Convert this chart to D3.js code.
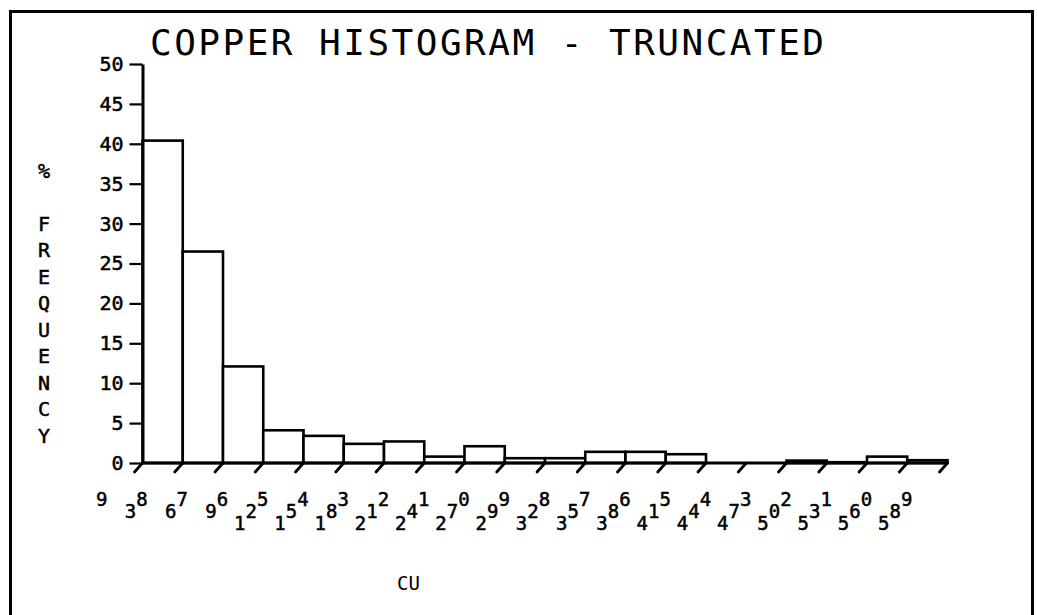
<!DOCTYPE html>
<html>
<head>
<meta charset="utf-8">
<script src="https://cdn.jsdelivr.net/npm/d3@7"></script>
<style>
  html, body { margin: 0; padding: 0; background: #fff; }
  svg { display: block; }
  text { font-family: "DejaVu Sans Mono", monospace; fill: #000; }
  .heavy { stroke: #000; stroke-width: 0.5px; }
</style>
</head>
<body>
<svg id="chart" width="1037" height="615"></svg>
<script>
// Chart text
const title = "COPPER HISTOGRAM - TRUNCATED";
const xTitle = "CU";
const yTitle = "% FREQUENCY";

// Bin boundary labels (copper value at each class edge)
const binLabels = ["9", "38", "67", "96", "125", "154", "183", "212", "241", "270",
                   "299", "328", "357", "386", "415", "444", "473", "502", "531", "560", "589"];

// Percent frequency in each class
const frequency = [40.4, 26.5, 12.1, 4.1, 3.4, 2.4, 2.7, 0.8, 2.1, 0.6,
                   0.6, 1.4, 1.4, 1.1, 0, 0, 0.3, 0.1, 0.8, 0.35];

// Y axis ticks
const yTicks = [0, 5, 10, 15, 20, 25, 30, 35, 40, 45, 50];

const svg = d3.select("#chart");

// Frame around the plot
svg.append("rect")
  .attr("x", 10.5).attr("y", 11.5)
  .attr("width", 1022).attr("height", 700)
  .attr("fill", "none").attr("stroke", "#000").attr("stroke-width", 3);

// Scales
const x = d3.scaleLinear().domain([0, frequency.length]).range([142.5, 947.5]);
const y = d3.scaleLinear().domain([0, 50]).range([463, 64]);

// Title
svg.append("text")
  .attr("x", 150).attr("y", 55)
  .attr("font-size", 36)
  .attr("textLength", 674)
  .attr("lengthAdjust", "spacing")
  .text(title);

// Histogram bars
svg.append("g").selectAll("rect")
  .data(frequency)
  .join("rect")
  .attr("x", (d, i) => x(i))
  .attr("y", d => y(d))
  .attr("width", (d, i) => x(i + 1) - x(i))
  .attr("height", d => y(0) - y(d))
  .attr("fill", "#fff")
  .attr("stroke", "#000")
  .attr("stroke-width", 2.6);

// Y axis
const yAxis = svg.append("g")
  .attr("transform", `translate(${x(0)},0)`)
  .call(d3.axisLeft(y).tickValues(yTicks).tickSize(13).tickSizeOuter(0).tickPadding(6));
yAxis.select(".domain").attr("stroke", "#000").attr("stroke-width", 3);
yAxis.selectAll(".tick line").attr("stroke", "#000").attr("stroke-width", 2.2);
yAxis.selectAll(".tick text")
  .attr("class", "heavy")
  .attr("font-family", "DejaVu Sans Mono, monospace")
  .attr("font-size", 20)
  .attr("fill", "#000");

// X axis baseline
svg.append("line")
  .attr("x1", x(0)).attr("x2", x(frequency.length))
  .attr("y1", y(0)).attr("y2", y(0))
  .attr("stroke", "#000").attr("stroke-width", 3);

// Slanted tick marks at each class edge
svg.append("g").selectAll("line")
  .data(binLabels)
  .join("line")
  .attr("x1", (d, i) => x(i)).attr("y1", y(0))
  .attr("x2", (d, i) => x(i) - 8).attr("y2", y(0) + 9)
  .attr("stroke", "#000").attr("stroke-width", 2.8)
  .attr("stroke-linecap", "round");

// Edge labels, each digit stepping up to the right
const labelGroup = svg.append("g").attr("font-size", 19).attr("class", "heavy");
binLabels.forEach((s, i) => {
  const end = x(i) - 35;
  const n = s.length;
  s.split("").forEach((ch, j) => {
    const k = n - 1 - j;
    labelGroup.append("text")
      .attr("x", end - k * 11.5)
      .attr("y", 506 + k * 12)
      .attr("text-anchor", "end")
      .text(ch);
  });
});

// X axis title
svg.append("text")
  .attr("x", 397).attr("y", 590)
  .attr("font-size", 19)
  .text(xTitle);

// Y axis title, one character per row
const yTitleGroup = svg.append("g").attr("font-size", 20).attr("text-anchor", "middle").attr("class", "heavy");
yTitle.split("").forEach((ch, k) => {
  if (ch === " ") return;
  yTitleGroup.append("text")
    .attr("x", 44)
    .attr("y", 170.6 + 26.5 * k + 7)
    .text(ch);
});
</script>
</body>
</html>
